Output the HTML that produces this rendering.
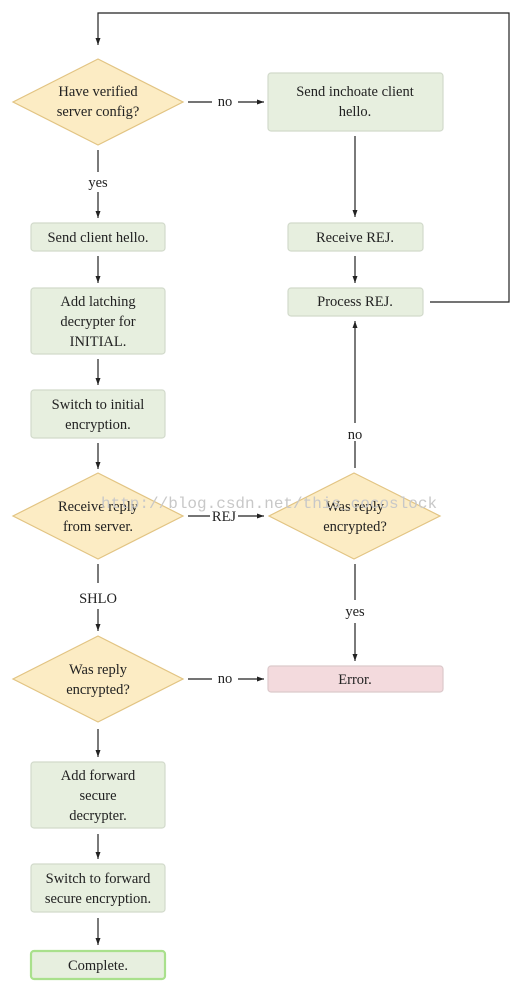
<!DOCTYPE html>
<html><head><meta charset="utf-8"><style>
html,body{margin:0;padding:0;background:#fff;}
svg{display:block;}
text{font-family:"Liberation Serif",serif;font-size:14.5px;fill:#222;text-anchor:middle;}
.b{fill:#e7efdf;stroke:#d2dacb;stroke-width:1.2;}
.d{fill:#fcecc4;stroke:#e2c483;stroke-width:1.2;}
.l{stroke:#222;stroke-width:1.2;fill:none;}
.w{font-family:"Liberation Mono",monospace;font-size:16px;fill:#c8c8c8;text-anchor:start;}
</style></head><body>
<svg width="518" height="985" viewBox="0 0 518 985" xmlns="http://www.w3.org/2000/svg">
<defs><marker id="a" markerWidth="8" markerHeight="8" refX="7" refY="4" orient="auto" markerUnits="userSpaceOnUse"><path d="M0,1.5 L7,4 L0,6.5 z" fill="#222"/></marker></defs>

<path class="l" d="M430,302 H509 V13 H98 V45" marker-end="url(#a)"/>

<polygon class="d" points="98,59 183,102 98,145 13,102"/>
<text x="98" y="96">Have verified</text><text x="98" y="116">server config?</text>
<path class="l" d="M188,102 H212"/><text x="225" y="106">no</text>
<path class="l" d="M238,102 H264" marker-end="url(#a)"/>
<rect class="b" x="268" y="73" width="175" height="58" rx="3"/>
<text x="355" y="96">Send inchoate client</text><text x="355" y="116">hello.</text>

<path class="l" d="M98,150 V172"/><text x="98" y="187">yes</text>
<path class="l" d="M98,192 V218" marker-end="url(#a)"/>
<rect class="b" x="31" y="223" width="134" height="28" rx="3"/>
<text x="98" y="242">Send client hello.</text>

<path class="l" d="M355,136 V217" marker-end="url(#a)"/>
<rect class="b" x="288" y="223" width="135" height="28" rx="3"/>
<text x="355" y="242">Receive REJ.</text>
<path class="l" d="M355,256 V283" marker-end="url(#a)"/>
<rect class="b" x="288" y="288" width="135" height="28" rx="3"/>
<text x="355" y="306">Process REJ.</text>

<path class="l" d="M98,256 V283" marker-end="url(#a)"/>
<rect class="b" x="31" y="288" width="134" height="66" rx="3"/>
<text x="98" y="306">Add latching</text><text x="98" y="326">decrypter for</text><text x="98" y="346">INITIAL.</text>
<path class="l" d="M98,359 V385" marker-end="url(#a)"/>
<rect class="b" x="31" y="390" width="134" height="48" rx="3"/>
<text x="98" y="409">Switch to initial</text><text x="98" y="429">encryption.</text>
<path class="l" d="M98,443 V469" marker-end="url(#a)"/>

<polygon class="d" points="98,473 183,516 98,559 13,516"/>
<text x="98" y="511">Receive reply</text><text x="98" y="531">from server.</text>
<path class="l" d="M188,516 H210"/><text x="224" y="521">REJ</text>
<path class="l" d="M238,516 H264" marker-end="url(#a)"/>
<polygon class="d" points="354,473 440,516 354,559 269,516"/>
<text x="355" y="511">Was reply</text><text x="355" y="531">encrypted?</text>

<text class="w" x="101" y="508">http://blog.csdn.net/this_cocoslock</text>

<path class="l" d="M355,468 V441"/><text x="355" y="439">no</text>
<path class="l" d="M355,423 V321" marker-end="url(#a)"/>

<path class="l" d="M355,564 V600"/><text x="355" y="616">yes</text>
<path class="l" d="M355,623 V661" marker-end="url(#a)"/>
<rect x="268" y="666" width="175" height="26" rx="3" fill="#f3dadd" stroke="#dcc9cb" stroke-width="1.2"/>
<text x="355" y="684">Error.</text>

<path class="l" d="M98,564 V583"/><text x="98" y="603">SHLO</text>
<path class="l" d="M98,609 V631" marker-end="url(#a)"/>
<polygon class="d" points="98,636 183,679 98,722 13,679"/>
<text x="98" y="674">Was reply</text><text x="98" y="694">encrypted?</text>
<path class="l" d="M188,679 H212"/><text x="225" y="683">no</text>
<path class="l" d="M238,679 H264" marker-end="url(#a)"/>

<path class="l" d="M98,729 V757" marker-end="url(#a)"/>
<rect class="b" x="31" y="762" width="134" height="66" rx="3"/>
<text x="98" y="780">Add forward</text><text x="98" y="800">secure</text><text x="98" y="820">decrypter.</text>
<path class="l" d="M98,834 V859" marker-end="url(#a)"/>
<rect class="b" x="31" y="864" width="134" height="48" rx="3"/>
<text x="98" y="883">Switch to forward</text><text x="98" y="903">secure encryption.</text>
<path class="l" d="M98,918 V945" marker-end="url(#a)"/>
<rect x="31" y="951" width="134" height="28" rx="3" fill="#e7efdf" stroke="#a9e08c" stroke-width="2.2"/>
<text x="98" y="970">Complete.</text>
</svg>
</body></html>
